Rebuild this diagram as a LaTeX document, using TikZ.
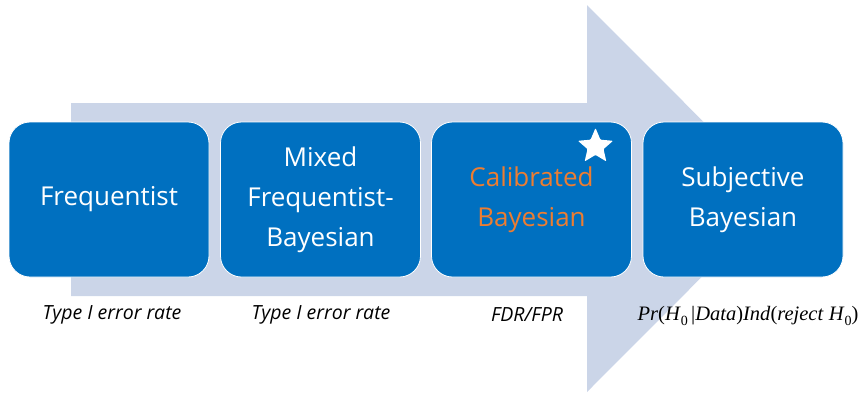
\documentclass[tikz,border=0pt]{standalone}
\usepackage{fontspec}
\setmainfont{Open Sans}
\newfontfamily\formulafont{Liberation Serif}
\usetikzlibrary{shapes.geometric}
\definecolor{arrowfill}{RGB}{203,213,232}
\definecolor{boxblue}{RGB}{0,112,192}
\definecolor{accent}{RGB}{237,125,49}
% italic letters with upright digits as subscripts, set in a Cambria-like serif
\newcommand{\fv}[1]{\textit{#1}}
\newcommand{\sub}[1]{\raisebox{-0.25em}{\fontsize{14}{14}\selectfont #1}}
\tikzset{
  stagebox/.style={draw=white, line width=0.8pt, fill=boxblue, rounded corners=21pt,
    minimum width=200pt, minimum height=155pt, align=center, text=white,
    font=\fontsize{26}{40}\selectfont, inner sep=0pt},
  caption/.style={font=\fontsize{19.5}{22}\selectfont\itshape, text=black, inner sep=0pt},
  starmark/.style={star, star points=5, star point ratio=2.2, fill=white, draw=none,
    minimum size=37pt, inner sep=0pt, rounded corners=1pt}
}
\begin{document}
\begin{tikzpicture}[x=1pt,y=-1pt]
  \useasboundingbox (0,0) rectangle (860,392);
  % broad background arrow
  \fill[arrowfill] (71,103) -- (587,103) -- (587,5) -- (780,198.5)
    -- (587,392) -- (587,296) -- (71,296) -- cycle;
  % stages
  \node[stagebox] (freq) at (109,199.5) {Frequentist};
  \node[stagebox] (mixed) at (320.5,199.5) {Mixed\\Frequentist-\\Bayesian};
  \node[stagebox, text=accent] (calib) at (531.5,199.5) {Calibrated\\Bayesian};
  \node[stagebox] (subj) at (743,199.5) {Subjective\\Bayesian};
  \node[starmark] (star) at (595.5,146.5) {};
  % error criteria under each stage
  \node[caption] (c1) at (112,315) {Type I error rate};
  \node[caption] (c2) at (321,315) {Type I error rate};
  \node[caption] (c3) at (527,315) {FDR/FPR};
  \node[inner sep=0pt, font=\formulafont\fontsize{20.5}{22}\selectfont] (c4) at (748,316)
    {\fv{Pr}(\fv{H}\sub{0}\,|\fv{Data})\fv{Ind}(\fv{reject} \fv{H}\sub{0})};
\end{tikzpicture}
\end{document}
